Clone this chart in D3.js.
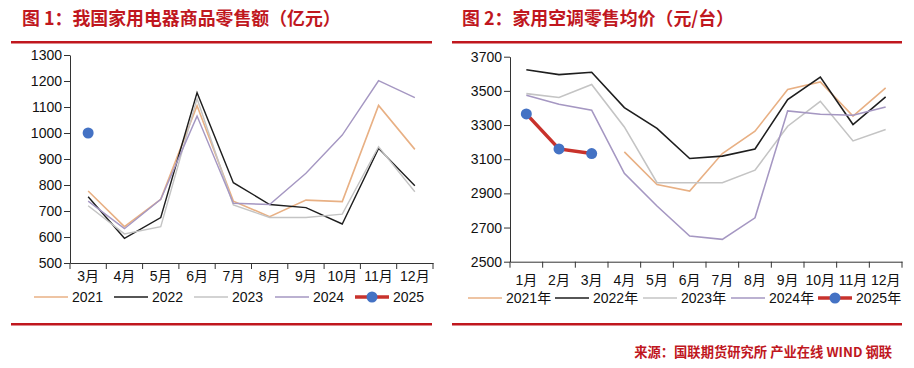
<!DOCTYPE html>
<meta charset="utf-8">
<script src="https://d3js.org/d3.v7.min.js"></script>
<style>
  body { margin: 0; background: #fff; }
  text { font-family: "Liberation Sans", Arial, "Noto Sans CJK SC", sans-serif; }
</style>
<div id="chart"></div>
<script>
// Chart 1: retail sales of household appliances (100m yuan), March-December
const months1 = ["3月", "4月", "5月", "6月", "7月", "8月", "9月", "10月", "11月", "12月"];
const sales2021 = [777, 640, 745, 1105, 738, 678, 742, 736, 1106, 937];
const sales2022 = [755, 595, 675, 1155, 809, 725, 713, 650, 941, 797];
const sales2023 = [720, 612, 640, 1132, 723, 675, 675, 688, 947, 774];
const sales2024 = [738, 632, 745, 1065, 730, 725, 845, 992, 1201, 1136];
const sales2025 = [1000];
const yTicks1 = [500, 600, 700, 800, 900, 1000, 1100, 1200, 1300];

// Chart 2: average retail price of air conditioners (yuan/unit)
const months2 = ["1月", "2月", "3月", "4月", "5月", "6月", "7月", "8月", "9月", "10月", "11月", "12月"];
const price2021 = [null, null, null, 3143, 2952, 2913, 3133, 3264, 3508, 3552, 3352, 3517];
const price2022 = [3624, 3595, 3609, 3402, 3280, 3104, 3118, 3160, 3449, 3581, 3303, 3465];
const price2023 = [3484, 3461, 3537, 3289, 2962, 2962, 2962, 3036, 3293, 3439, 3207, 3274];
const price2024 = [3474, 3422, 3387, 3017, 2826, 2650, 2631, 2757, 3383, 3363, 3357, 3406];
const price2025 = [3365, 3160, 3133];
const yTicks2 = [2500, 2700, 2900, 3100, 3300, 3500, 3700];

const red = "#C0171E";
const colors = { y2021: "#E8B084", y2022: "#1E1E1E", y2023: "#C4C4C4", y2024: "#A597C2", line2025: "#C8322C", dot2025: "#4472C4" };

const svg = d3.select("#chart").append("svg")
  .attr("width", 914).attr("height", 368);

function panel(opt) {
  const g = svg.append("g");

  // title + red rules
  g.append("text")
    .attr("x", opt.titleX).attr("y", 25)
    .attr("fill", red)
    .style("font-family", "'Noto Sans CJK SC', sans-serif")
    .style("font-weight", "bold")
    .style("font-size", "17.9px")
    .text(opt.title);
  g.append("rect").attr("x", opt.ruleX0).attr("y", 41).attr("width", opt.ruleX1 - opt.ruleX0).attr("height", 2.5).attr("fill", red);
  g.append("rect").attr("x", opt.ruleX0).attr("y", 323).attr("width", opt.ruleX1 - opt.ruleX0).attr("height", 2.5).attr("fill", red);

  const x = d3.scaleBand().domain(opt.months).range([opt.left, opt.right]).padding(0);
  const y = d3.scaleLinear().domain([opt.yTicks[0], opt.yTicks[opt.yTicks.length - 1]]).range([opt.bottom, opt.top]);

  // y axis
  const ya = g.append("g").attr("transform", `translate(${opt.left},0)`)
    .call(d3.axisLeft(y).tickValues(opt.yTicks).tickSize(6).tickSizeOuter(0).tickFormat(d3.format("d")));
  ya.select(".domain").attr("stroke", "#333");
  ya.selectAll(".tick line").attr("stroke", "#333");
  ya.selectAll("text").style("font-size", "14px").attr("fill", "#111").attr("x", -8);

  // x axis: labels centred in bands, ticks on band boundaries
  const xa = g.append("g").attr("transform", `translate(0,${opt.bottom})`)
    .call(d3.axisBottom(x).tickSize(0).tickSizeOuter(0));
  xa.select(".domain").attr("stroke", "#333");
  xa.selectAll("text").style("font-size", "14px").attr("fill", "#111").attr("dy", opt.xLabelDy);
  g.append("g").selectAll("line")
    .data(opt.months.map(m => x(m)).concat([opt.right]))
    .join("line")
      .attr("x1", d => d).attr("x2", d => d)
      .attr("y1", opt.bottom).attr("y2", opt.bottom + 6)
      .attr("stroke", "#333");

  const line = d3.line()
    .defined(d => d != null)
    .x((d, i) => x(opt.months[i]) + x.bandwidth() / 2)
    .y(d => y(d));

  opt.series.forEach(s => {
    g.append("path")
      .datum(s.values)
      .attr("fill", "none")
      .attr("stroke", s.color)
      .attr("stroke-width", s.width)
      .attr("stroke-linejoin", "miter")
      .attr("d", line);
    if (s.dot) {
      g.append("g").selectAll("circle")
        .data(s.values)
        .join("circle")
          .attr("cx", (d, i) => x(opt.months[i]) + x.bandwidth() / 2)
          .attr("cy", d => y(d))
          .attr("r", 5.5)
          .attr("fill", s.dot);
    }
  });

  // legend
  const lg = g.append("g").attr("transform", `translate(0,${opt.legendY})`);
  opt.series.forEach((s, i) => {
    const lx = opt.legendX[i];
    lg.append("line").attr("x1", lx).attr("x2", lx + 34).attr("y1", 0).attr("y2", 0)
      .attr("stroke", s.color).attr("stroke-width", s.dot ? 3.5 : 1.5);
    if (s.dot) lg.append("circle").attr("cx", lx + 17).attr("cy", 0).attr("r", 5.5).attr("fill", s.dot);
    lg.append("text").attr("x", lx + 38).attr("y", 5).style("font-size", "14px").attr("fill", "#111").text(s.name);
  });
}

panel({
  title: "图 1：我国家用电器商品零售额（亿元）",
  titleX: 22, ruleX0: 11, ruleX1: 432,
  months: months1, yTicks: yTicks1,
  left: 70, right: 433, top: 55, bottom: 263, xLabelDy: "1.05em",
  legendY: 297, legendX: [34, 114, 194, 275, 355],
  series: [
    { name: "2021", values: sales2021, color: colors.y2021, width: 1.6 },
    { name: "2022", values: sales2022, color: colors.y2022, width: 1.4 },
    { name: "2023", values: sales2023, color: colors.y2023, width: 1.4 },
    { name: "2024", values: sales2024, color: colors.y2024, width: 1.4 },
    { name: "2025", values: sales2025, color: colors.line2025, width: 3.5, dot: colors.dot2025 }
  ]
});

panel({
  title: "图 2：家用空调零售均价（元/台）",
  titleX: 462, ruleX0: 452, ruleX1: 902,
  months: months2, yTicks: yTicks2,
  left: 510, right: 902, top: 56.7, bottom: 261.7, xLabelDy: "1.45em",
  legendY: 298, legendX: [468, 555, 643, 731, 818],
  series: [
    { name: "2021年", values: price2021, color: colors.y2021, width: 1.6 },
    { name: "2022年", values: price2022, color: colors.y2022, width: 1.6 },
    { name: "2023年", values: price2023, color: colors.y2023, width: 1.6 },
    { name: "2024年", values: price2024, color: colors.y2024, width: 1.6 },
    { name: "2025年", values: price2025, color: colors.line2025, width: 3.5, dot: colors.dot2025 }
  ]
});

// source note
svg.append("text")
  .attr("x", 892).attr("y", 357)
  .attr("text-anchor", "end")
  .attr("fill", red)
  .style("font-family", "'Noto Sans CJK SC', sans-serif")
  .style("font-weight", "bold")
  .style("font-size", "13.3px")
  .text("来源：国联期货研究所 产业在线 WIND 钢联");
</script>
